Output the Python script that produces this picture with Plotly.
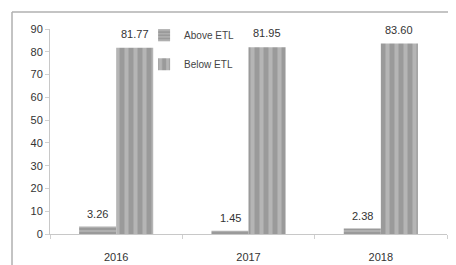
import plotly.graph_objects as go

years = ["2016", "2017", "2018"]
above_etl = [3.26, 1.45, 2.38]
below_etl = [81.77, 81.95, 83.60]
above_labels = ["3.26", "1.45", "2.38"]
below_labels = ["81.77", "81.95", "83.60"]
y_ticks = [0, 10, 20, 30, 40, 50, 60, 70, 80, 90]

fig = go.Figure()
fig.add_trace(go.Bar(
    x=years, y=above_etl, name="Above ETL", legendgroup="a",
    marker=dict(color="#9a9a9a", line=dict(width=0),
                pattern=dict(shape="-", fgcolor="#d0d0d0", bgcolor="#9a9a9a", size=4, solidity=0.4)),
))
fig.add_trace(go.Bar(
    x=years, y=below_etl, name="Below ETL", legendgroup="b",
    marker=dict(color="#9a9a9a", line=dict(width=0),
                pattern=dict(shape="|", fgcolor="#cfcfcf", bgcolor="#9a9a9a", size=9, solidity=0.45)),
))

# value labels placed above each bar (x given as category index)
annotations = []
for i, (v, lab) in enumerate(zip(above_etl, above_labels)):
    annotations.append(dict(x=i, y=v, text=lab, xref="x", yref="y",
                            showarrow=False, xshift=-18.5, yshift=13,
                            font=dict(size=11, color="#333333")))
for i, (v, lab) in enumerate(zip(below_etl, below_labels)):
    annotations.append(dict(x=i, y=v, text=lab, xref="x", yref="y",
                            showarrow=False, xshift=18.5, yshift=14,
                            font=dict(size=11, color="#333333")))

# page has an 8px body margin, so the figure is offset by 8px
fig.update_layout(
    width=448, height=257,
    margin=dict(l=42, r=9, t=21, b=31),
    paper_bgcolor="white", plot_bgcolor="white",
    barmode="group", bargap=0.44, bargroupgap=0,
    font=dict(family="Liberation Sans", size=11, color="#333333"),
    showlegend=True,
    legend=dict(x=0.237, y=1.04, xanchor="left", yanchor="top",
                bgcolor="rgba(0,0,0,0)", font=dict(size=10, color="#444444"),
                traceorder="grouped", tracegroupgap=10, itemwidth=30),
    xaxis=dict(type="category", range=[-0.5, 2.5],
               showline=True, linecolor="#c8c8c8", linewidth=1,
               ticks="outside", ticklen=4, tickcolor="#d0d0d0",
               tickson="boundaries", showgrid=False, ticklabelstandoff=13,
               automargin=False,
               tickfont=dict(size=11, color="#333333")),
    yaxis=dict(range=[0, 90], tickvals=y_ticks, showline=True,
               linecolor="#c8c8c8", linewidth=1, ticks="outside",
               ticklen=4, tickcolor="#d0d0d0", showgrid=False,
               zeroline=False, automargin=False,
               tickfont=dict(size=11, color="#333333")),
    annotations=annotations,
    shapes=[
        dict(type="line", xref="paper", yref="paper",
             x0=-0.0957, x1=1.05, y0=1.083, y1=1.083,
             line=dict(color="#b0b0b0", width=1.5)),
        dict(type="line", xref="paper", yref="paper",
             x0=-0.0957, x1=-0.0957, y0=1.083, y1=-0.5,
             line=dict(color="#b0b0b0", width=1.5)),
    ],
)

fig.write_html("out.html")
